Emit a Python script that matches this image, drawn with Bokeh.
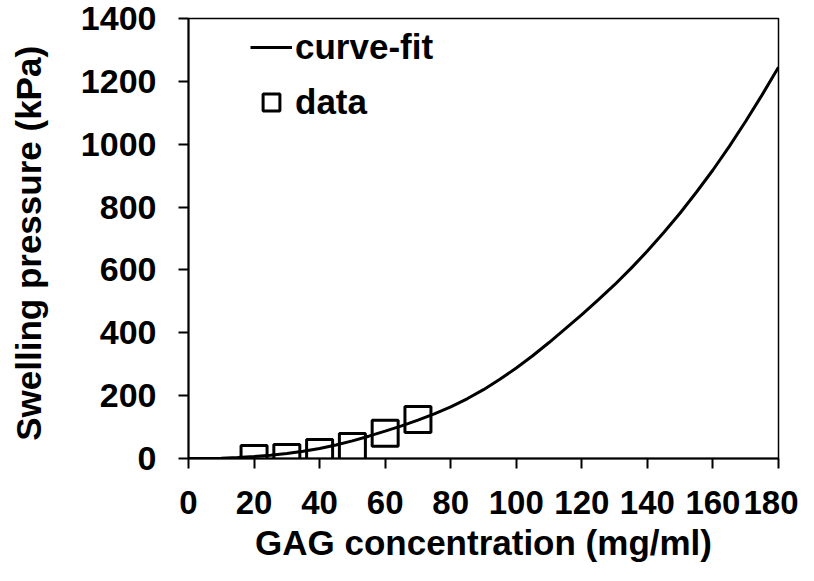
from bokeh.plotting import figure
from bokeh.models import Range1d, FixedTicker, Legend, LegendItem, ColumnDataSource
from bokeh.embed import file_html
from bokeh.resources import INLINE

# Data
fit_conc = [0, 5, 10, 15, 20, 25, 30, 35, 40, 45, 50, 55, 60, 65, 70, 75, 80, 85, 90,
            95, 100, 105, 110, 115, 120, 125, 130, 135, 140, 145, 150, 155, 160, 165,
            170, 175, 180]
fit_pressure = [0, 0, 1, 3, 6, 10, 16, 23, 32, 43, 56, 71, 87, 104, 122, 142, 164, 190,
                219, 252, 288, 327, 369, 413, 458, 505, 553, 605, 660, 719, 781, 848, 918,
                993, 1073, 1157, 1245]
data_conc = [20, 30, 40, 50, 60, 70]
data_pressure = [0, 3, 19, 38, 80, 124]
x_ticks = [0, 20, 40, 60, 80, 100, 120, 140, 160, 180]
y_ticks = [0, 200, 400, 600, 800, 1000, 1200, 1400]

FONT = "Liberation Sans"

p = figure(width=798, height=565, output_backend="svg", toolbar_location=None,
           x_range=Range1d(0, 180), y_range=Range1d(0, 1400),
           min_border_left=188, min_border_right=20, min_border_top=18, min_border_bottom=107)

p.xgrid.visible = False
p.ygrid.visible = False
p.outline_line_color = "black"
p.outline_line_width = 1.5
p.background_fill_color = "white"
p.border_fill_color = "white"

fit_src = ColumnDataSource(dict(x=fit_conc, y=fit_pressure))
dat_src = ColumnDataSource(dict(x=data_conc, y=data_pressure))

sq = p.scatter("x", "y", source=dat_src, marker="square", size=26,
               fill_color=None, line_color="black", line_width=3)
ln = p.line("x", "y", source=fit_src, line_color="black", line_width=3)

for ax in (p.xaxis[0], p.yaxis[0]):
    ax.axis_line_width = 2
    ax.axis_line_color = "black"
    ax.major_tick_line_width = 2
    ax.major_tick_line_color = "black"
    ax.major_tick_in = 0
    ax.major_tick_out = 10
    ax.minor_tick_line_color = None
    ax.major_label_text_font = FONT
    ax.major_label_text_font_style = "bold"
    ax.major_label_text_font_size = "34px"
    ax.major_label_text_color = "black"
    ax.axis_label_text_font = FONT
    ax.axis_label_text_font_style = "bold"
    ax.axis_label_text_font_size = "35px"
    ax.axis_label_text_color = "black"

p.xaxis[0].major_label_text_font_size = "33px"
p.xaxis[0].ticker = FixedTicker(ticks=x_ticks)
p.yaxis[0].ticker = FixedTicker(ticks=y_ticks)
p.xaxis[0].axis_label = "GAG concentration (mg/ml)"
p.yaxis[0].axis_label = "Swelling pressure  (kPa)"
p.xaxis[0].major_label_standoff = 22
p.xaxis[0].axis_label_standoff = 6
p.yaxis[0].major_label_standoff = 22
p.yaxis[0].axis_label_standoff = 30

legend = Legend(items=[LegendItem(label="curve-fit", renderers=[ln]),
                       LegendItem(label="data", renderers=[sq])],
                location=(62, 330), padding=0, margin=0, spacing=3,
                glyph_width=42, glyph_height=52, label_standoff=3,
                border_line_color=None, background_fill_alpha=0,
                label_text_font=FONT, label_text_font_style="bold",
                label_text_font_size="35px", label_text_color="black")
p.add_layout(legend)

open("out.html", "w").write(file_html(p, INLINE))
